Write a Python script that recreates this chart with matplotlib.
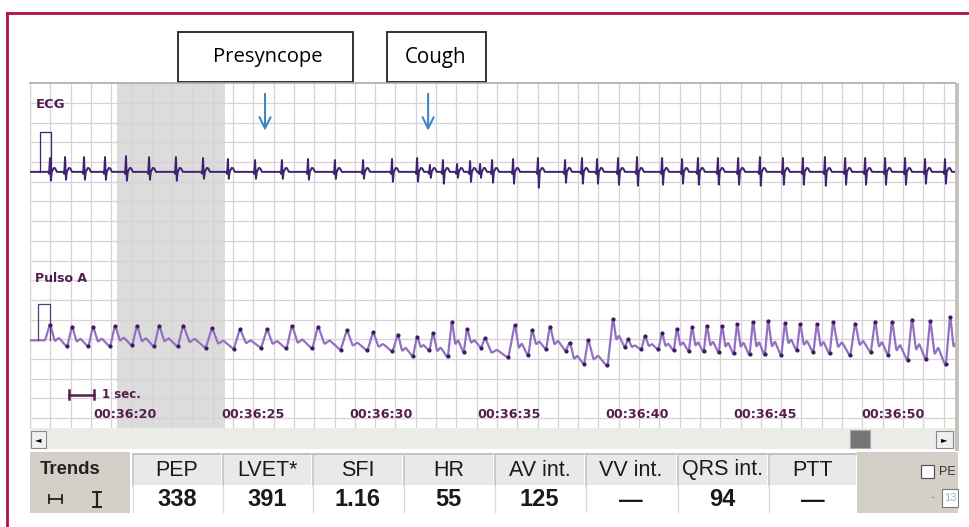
import numpy as np
import matplotlib.pyplot as plt
from matplotlib.patches import Rectangle

# time axis in seconds after 00:36:00
tick_secs = [20, 25, 30, 35, 40, 45, 50]
tick_labels = ['00:36:20', '00:36:25', '00:36:30', '00:36:35',
               '00:36:40', '00:36:45', '00:36:50']
t_left, t_right = 16.29, 52.42
shade_start, shade_end = 19.69, 23.91

# ECG beats: time (s), R up, S down (grid units)
ecg_t = [17.07, 17.66, 18.40, 19.22, 20.04, 20.94, 21.99, 23.05, 24.02, 25.08,
         26.13, 27.15, 28.20, 29.30, 30.43, 31.41, 31.91, 32.42, 32.97, 33.48,
         33.87, 34.34, 35.16, 36.13, 37.19, 37.85, 38.44, 39.26, 40.00, 40.98,
         41.76, 42.38, 43.16, 43.95, 44.80, 45.70, 46.48, 47.34, 48.13, 48.91,
         49.69, 50.47, 51.25, 52.03]
ecg_r = [0.7, 0.75, 0.75, 0.75, 0.8, 0.75, 0.75, 0.7, 0.65, 0.6,
         0.6, 0.65, 0.6, 0.6, 0.65, 0.7, 0.35, 0.6, 0.4, 0.55,
         0.4, 0.6, 0.65, 0.7, 0.6, 0.7, 0.65, 0.7, 0.75, 0.7,
         0.65, 0.7, 0.7, 0.7, 0.75, 0.7, 0.7, 0.75, 0.7, 0.7,
         0.7, 0.7, 0.65, 0.65]
ecg_s = [0.45, 0.4, 0.4, 0.4, 0.45, 0.4, 0.45, 0.35, 0.35, 0.35,
         0.35, 0.4, 0.35, 0.35, 0.5, 0.5, 0.3, 0.6, 0.3, 0.5,
         0.3, 0.55, 0.6, 0.8, 0.55, 0.6, 0.6, 0.65, 0.7, 0.65,
         0.6, 0.65, 0.65, 0.65, 0.7, 0.65, 0.65, 0.7, 0.65, 0.65,
         0.65, 0.65, 0.6, 0.6]

# arterial pulse beats: peak time (s), peak level, following trough level
pulse_t = [17.07, 17.93, 18.75, 19.61, 20.47, 21.33, 22.27, 23.40, 24.49, 25.55,
           26.52, 27.54, 28.67, 29.69, 30.66, 31.41, 32.03, 32.77, 33.36, 34.06,
           35.23, 35.90, 36.60, 37.38, 38.09, 39.06, 39.65, 40.31, 40.98, 41.56,
           42.15, 42.73, 43.32, 43.91, 44.53, 45.12, 45.78, 46.37, 47.03, 47.66,
           48.52, 49.30, 49.96, 50.74, 51.45, 52.23]
pulse_pk = [4.8, 4.7, 4.7, 4.75, 4.75, 4.75, 4.75, 4.6, 4.55, 4.55,
            4.75, 4.7, 4.5, 4.4, 4.3, 4.2, 4.4, 5.0, 4.6, 4.1,
            4.81, 4.56, 4.73, 3.88, 4.05, 5.15, 4.05, 4.22, 4.39, 4.64,
            4.73, 4.81, 4.81, 4.9, 5.02, 5.07, 4.95, 4.9, 4.9, 4.98,
            4.9, 5.02, 5.02, 5.15, 5.07, 5.32]
pulse_tr = [3.6, 3.6, 3.6, 3.65, 3.6, 3.6, 3.55, 3.5, 3.55, 3.5,
            3.5, 3.45, 3.4, 3.35, 3.1, 3.4, 3.05, 3.3, 3.55, 3.05,
            3.12, 3.46, 3.4, 2.7, 2.6, 3.56, 3.46, 3.46, 3.4, 3.35,
            3.3, 3.28, 3.2, 3.15, 3.12, 3.12, 3.38, 3.29, 3.21, 3.12,
            3.29, 3.12, 2.87, 2.87, 2.61, 3.0]

events = ['Presyncope', 'Cough']
event_t = [25.47, 31.84]

table_headers = ['PEP', 'LVET*', 'SFI', 'HR', 'AV int.', 'VV int.', 'QRS int.', 'PTT']
table_values = ['338', '391', '1.16', '55', '125', '\u2014', '94', '\u2014']

ecg_base, ecg_cal = 12.5, 14.53
pulse_base, pulse_cal = 3.97, 5.8
ecg_col = '#3f2270'
pulse_col = '#9470c2'
dot_col = '#3a1d5c'
lab_col = '#561c50'

fig = plt.figure(figsize=(9.7, 5.27), dpi=100)
ui = fig.add_axes([0, 0, 1, 1])
ui.set_xlim(0, 970)
ui.set_ylim(527, 0)
ui.axis('off')

ax = fig.add_axes([30 / 970, 99 / 527, 925 / 970, 345 / 527])
ax.set_xlim(t_left, t_right)
ax.set_ylim(-0.5, 17.01)

# grid
ax.set_xticks(t_left + 0.793 * np.arange(46))
ax.set_yticks(np.arange(0, 17))
ax.tick_params(length=0, labelbottom=False, labelleft=False)
ax.grid(True, color='#d4d4d4', lw=0.9)
ax.set_axisbelow(True)
ax.axvspan(shade_start, shade_end, color='#dcdcdc', zorder=0, lw=0)
for side in ['bottom', 'right']:
    ax.spines[side].set_visible(False)
ax.spines['top'].set_color('#a9a9a9')
ax.spines['top'].set_linewidth(1.2)
ax.spines['left'].set_color('#d2d2d2')

# ECG trace
ex, ey = [t_left], [0.0]
for t, r, s in zip(ecg_t, ecg_r, ecg_s):
    ex += [t - 0.07, t - 0.035, t, t + 0.035, t + 0.07, t + 0.15, t + 0.2, t + 0.27]
    ey += [0, -0.1, r, -s, 0, 0.2, 0.18, 0]
ex.append(t_right)
ey.append(0.0)
ax.plot(ex, ecg_base + np.array(ey), color=ecg_col, lw=1.4, zorder=3)
ax.plot([16.68, 16.68, 17.11, 17.11], [ecg_base, ecg_cal, ecg_cal, ecg_base],
        color=ecg_col, lw=0.9, zorder=3)

# pulse trace: beat outline, then lightly rounded
first_dt = pulse_t[1] - pulse_t[0]
px, py = [t_left, pulse_t[0] - 0.22 * first_dt], [3.95, 3.95]
dots_x, dots_y = [], []
for i, (t, pk, tr) in enumerate(zip(pulse_t, pulse_pk, pulse_tr)):
    nxt = pulse_t[i + 1] if i + 1 < len(pulse_t) else t + 0.6
    dt = nxt - t
    amp = pk - tr
    px += [t, t + 0.22 * dt, t + 0.4 * dt, nxt - 0.22 * dt]
    py += [pk, tr + 0.25 * amp, tr + 0.4 * amp, tr]
    dots_x += [t, nxt - 0.22 * dt]
    dots_y += [pk, tr]
tt = np.arange(t_left, t_right + 0.3, 0.01)
yy = np.interp(tt, px, py)
k = np.ones(5) / 5
yy = np.convolve(np.pad(yy, 2, mode='edge'), k, mode='valid')
ax.plot(tt, yy, color=pulse_col, lw=1.6, zorder=3)
ax.plot(dots_x, np.interp(dots_x, tt, yy), 'o', color=dot_col, ms=2.0, zorder=4)
ax.plot([16.60, 16.60, 17.07, 17.07], [pulse_base, pulse_cal, pulse_cal, pulse_base],
        color='#5a3a7a', lw=0.9, zorder=3)

# channel labels, scale bar, time labels
ax.text(16.5, 15.9, 'ECG', fontsize=9.5, fontweight='bold', color=lab_col, va='center')
ax.text(16.5, 7.1, 'Pulso A', fontsize=9, fontweight='bold', color=lab_col, va='center')
ax.plot([17.8, 18.8], [1.2, 1.2], color=lab_col, lw=1.8)
ax.plot([17.8, 17.8], [0.95, 1.45], color=lab_col, lw=1.8)
ax.plot([18.8, 18.8], [0.95, 1.45], color=lab_col, lw=1.8)
ax.text(19.1, 1.2, '1 sec.', fontsize=8.5, fontweight='bold', color=lab_col, va='center')
for s, lab in zip(tick_secs, tick_labels):
    ax.text(s, 0.2, lab, fontsize=9.2, fontweight='bold', color=lab_col,
            ha='center', va='center')

# event arrows
for t in event_t:
    ax.annotate('', xy=(t, 14.45), xytext=(t, 16.6),
                arrowprops=dict(arrowstyle='->', color='#3f86c8', lw=1.5,
                                mutation_scale=20))

# event boxes
ui.add_patch(Rectangle((178, 32), 175, 50, fc='white', ec='#222222', lw=1.3))
ui.add_patch(Rectangle((387, 32), 99, 50, fc='white', ec='#222222', lw=1.3))
ui.text(268, 57, events[0], fontsize=14.6, family='Open Sans', ha='center', va='center')
ui.text(436, 57, events[1], fontsize=14.8, family='Open Sans', ha='center', va='center')

# outer frame
ui.plot([7, 7], [13, 527], color='#b3123c', lw=2)
ui.plot([7, 970], [13, 13], color='#b3123c', lw=2)

# right window edge
ui.add_patch(Rectangle((955, 83), 4, 368, fc='#c6c2ba', ec='none'))

# scroll bar
ui.add_patch(Rectangle((30, 428), 925, 21, fc='#ebebe8', ec='none'))
ui.add_patch(Rectangle((31, 431), 15, 17, fc='#f0f0f0', ec='#8a8a8a', lw=0.8))
ui.text(38.5, 439.5, '\u25c4', fontsize=6, ha='center', va='center')
ui.add_patch(Rectangle((936, 431), 17, 17, fc='#f0f0f0', ec='#8a8a8a', lw=0.8))
ui.text(944.5, 439.5, '\u25ba', fontsize=6, ha='center', va='center')
ui.add_patch(Rectangle((850, 430), 20, 18, fc='#767676', ec='#aaaaaa', lw=0.8))

# trends table
ui.add_patch(Rectangle((30, 452), 100, 61, fc='#d4d0c8', ec='none'))
ui.text(70, 470, 'Trends', fontsize=13.3, fontweight='bold', family='Liberation Sans',
        ha='center', va='center', color='#222222')
ui.plot([49, 62], [499, 499], color='#222222', lw=1.3)
ui.plot([49, 49], [495, 503], color='#222222', lw=1.3)
ui.plot([62, 62], [495, 503], color='#222222', lw=1.3)
ui.plot([97, 97], [492, 507], color='#222222', lw=1.6)
ui.plot([93, 101], [492, 492], color='#222222', lw=1.4)
ui.plot([93, 101], [507, 507], color='#222222', lw=1.4)
ui.add_patch(Rectangle((857, 452), 101, 61, fc='#d4d0c8', ec='none'))
ui.add_patch(Rectangle((921, 465), 13, 13, fc='white', ec='#555555', lw=0.9))
ui.text(939, 472, 'PE', fontsize=9, family='Liberation Sans', va='center', color='#333333')
ui.text(933, 499, '\u00b7', fontsize=9, ha='center', va='center', color='#444444')
ui.add_patch(Rectangle((942, 489), 16, 18, fc='white', ec='#777777', lw=0.8))
ui.text(944, 498, '13', fontsize=8, family='Liberation Sans', va='center', color='#a0b0c8')
ui.add_patch(Rectangle((959, 440), 11, 80, fc='white', ec='none', zorder=5))

edges = [132, 222, 312, 403, 494, 585, 677, 768, 857]
ui.add_patch(Rectangle((130, 452), 727, 61, fc='white', ec='none'))
for i, (h, v) in enumerate(zip(table_headers, table_values)):
    x0, x1 = edges[i], edges[i + 1]
    ui.add_patch(Rectangle((x0 + 1, 454), x1 - x0 - 2, 31, fc='#e9e9e9', ec='none'))
    ui.plot([x0 + 1, x1 - 1], [454, 454], color='#b8b8b8', lw=1.2)
    ui.plot([x0 + 1, x0 + 1], [454, 485], color='#c4c4c4', lw=1.2)
    ui.plot([x0 + 1, x0 + 1], [486, 512], color='#dadada', lw=0.9)
    cx = (x0 + x1) / 2
    ui.text(cx, 470, h, fontsize=15.5, family='Liberation Sans', ha='center', va='center',
            color='#1a1a1a')
    ui.text(cx, 500, v, fontsize=17, fontweight='bold', family='Liberation Sans',
            ha='center', va='center', color='#1a1a1a')

fig.savefig('out.png', dpi=100)
